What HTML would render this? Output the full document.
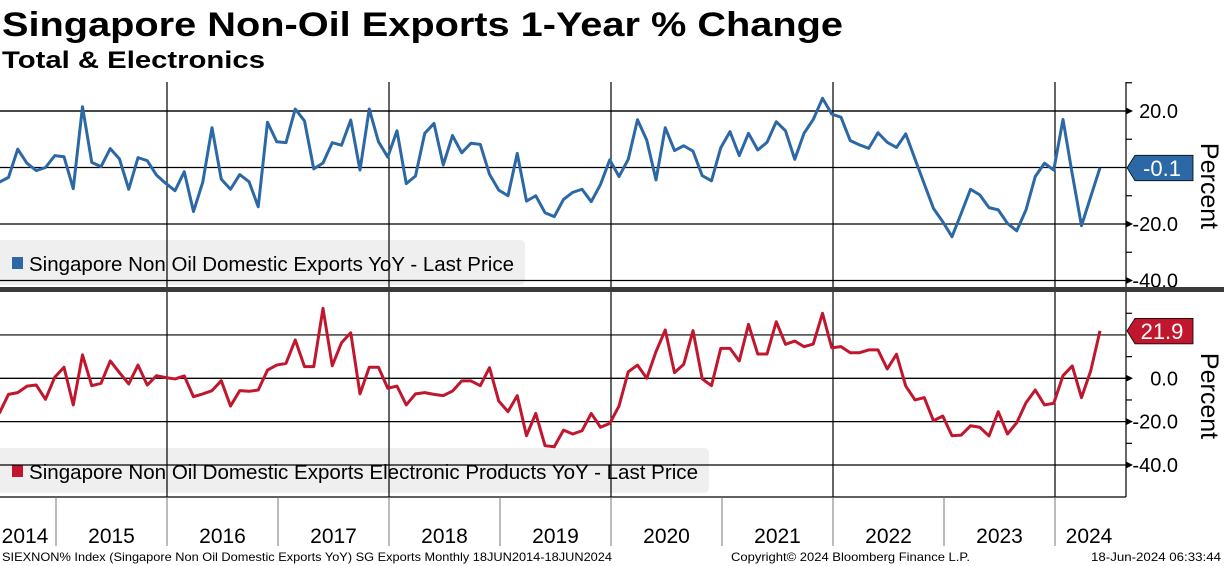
<!DOCTYPE html>
<html><head><meta charset="utf-8"><style>
body{margin:0;background:#fff;}
svg{display:block;font-family:"Liberation Sans",sans-serif;}
</style></head><body>
<svg id="chart" width="1224" height="566" viewBox="0 0 1224 566">
<text x="2" y="36" font-size="34" font-weight="bold" fill="#000" textLength="841" lengthAdjust="spacingAndGlyphs">Singapore Non-Oil Exports 1-Year % Change</text>
<text x="2" y="68" font-size="24" font-weight="bold" fill="#000" textLength="263" lengthAdjust="spacingAndGlyphs">Total &amp; Electronics</text>
<g id="layer"></g>
<text x="2" y="561" font-size="12" fill="#000" textLength="610" lengthAdjust="spacingAndGlyphs">SIEXNON% Index (Singapore Non Oil Domestic Exports YoY) SG Exports  Monthly 18JUN2014-18JUN2024</text>
<text x="731" y="561" font-size="12" fill="#000" textLength="239" lengthAdjust="spacingAndGlyphs">Copyright© 2024 Bloomberg Finance L.P.</text>
<text x="1091" y="561" font-size="12" fill="#000" textLength="130" lengthAdjust="spacingAndGlyphs">18-Jun-2024 06:33:44</text>
</svg>
<script>
const years = ["2014","2015","2016","2017","2018","2019","2020","2021","2022","2023","2024"];
const totalYoY = [-5.2,-3.5,6.5,1.5,-1.1,0,4.2,3.8,-7.5,21.5,1.8,0.3,6.7,3,-7.7,3.5,2.4,-2.7,-5.6,-8.2,-1.5,-15.6,-5.2,14.1,-4.1,-7.7,-2.5,-5,-13.9,16,9.1,8.8,20.7,16.5,-0.5,1.6,8.8,7.9,16.8,-0.9,20.7,9.1,3.7,13,-5.7,-3,12.1,15.6,0.9,11.3,5.2,8.6,8.2,-2.4,-8,-10,5,-11.9,-10,-16,-17.4,-11.3,-8.8,-7.7,-12.1,-6,2.7,-3.2,2.9,16.9,9.7,-4.4,14.1,6,7.7,5.8,-2.9,-4.7,7,12.7,4.2,12.1,6.2,8.9,16.2,13,2.9,12.1,17,24.5,18.9,17.8,9.5,8,6.8,12.3,8.9,7.1,11.9,3,-5.8,-14.5,-19.2,-24.5,-16.2,-7.7,-9.7,-14.2,-15,-19.8,-22.4,-15,-3.2,1.5,-0.9,17,-2.3,-20.6,-10.3,-0.1];
const elecYoY = [-16.2,-7.4,-6.6,-3.6,-3.1,-9.7,0.5,5.1,-12.3,10.8,-3.4,-2.3,8,2.6,-2.6,6.1,-3.1,1.2,0.3,-0.3,1.1,-8.5,-7.2,-5.7,-1.1,-12.8,-5.7,-6,-5.4,3.8,6.1,6.9,17.7,5.4,5.4,32.3,5.8,16.4,21,-7.2,5.1,5.1,-4.6,-3.6,-12.3,-7.2,-6.6,-7.4,-8,-5.9,-1.2,-1.2,-3.4,4.9,-10.5,-15.4,-8,-26.5,-16.2,-31.1,-31.6,-23.9,-25.7,-24.2,-16.2,-22.6,-20.8,-12.8,3,6.1,0,12.3,22.3,2.6,6.5,22,-0.3,-3.4,13.8,13.8,8,24.9,11.2,11.2,26.1,15.7,17.2,14.6,15.8,30,14.1,14.6,11.8,11.8,13.1,13.1,4.3,11.1,-3.6,-10,-8.9,-19.6,-17.4,-26.5,-26.2,-21.9,-22.6,-26.6,-15.4,-25.7,-20.5,-11.3,-5.4,-12.3,-11.5,1.2,5.7,-8.9,3.5,21.9];
const topTicks = [20,-20,-40];
const botTicks = [0,-20,-40];
const topMinor = [30,10,-10,-30];
const botMinor = [30,10,-10,-30];

const NS="http://www.w3.org/2000/svg";
const L=document.getElementById('layer');
function mk(tag,attrs,parent){const e=document.createElementNS(NS,tag);for(const k in attrs)e.setAttribute(k,attrs[k]);(parent||L).appendChild(e);return e;}
const AXIS_X=1126, X0=-0.75, MONTH=9.25, JAN2015=56;
const xIdx=i=>X0+i*MONTH;
const yearX=k=>JAN2015+(k-1)*MONTH*12;
const yTop=v=>167.5-v*2.825;
const yBot=v=>378.3-v*2.167;

function panel(name,yFn,top,bot,ticks,minor,data,color,legendText,legendY,legendW,textW,lastLabelY){
  const lg=mk('g',{});
  
  
  mk('rect',{x:-5,y:legendY,width:legendW+5,height:45,rx:5,fill:'#efefef'},lg);
  mk('rect',{x:12,y:legendY+17,width:11,height:12,fill:color},lg);
  const lt=mk('text',{x:29,y:legendY+31,'font-size':20,fill:'#000',textLength:textW,lengthAdjust:'spacingAndGlyphs'},lg);
  lt.textContent=legendText;
  [...ticks,0,20].forEach(v=>{
    const yy=yFn(v); if(yy<=top||yy>=bot) return;
    const g=mk('line',{x1:0,x2:AXIS_X,y1:yy,y2:yy,stroke:'#000','stroke-width':1.2});
    
    
  });
  for(let k=2;k<years.length;k+=2){
    const vl=mk('line',{x1:yearX(k),x2:yearX(k),y1:top,y2:bot,stroke:'#000','stroke-width':1.2});
    
    
  }
  const pts=data.map((v,i)=>xIdx(i).toFixed(2)+','+yFn(v).toFixed(2)).join(' ');
  const pl=mk('polyline',{points:pts,fill:'none',stroke:color,'stroke-width':3,'stroke-linejoin':'round'});
  
  
  mk('line',{x1:AXIS_X,x2:AXIS_X,y1:top,y2:bot,stroke:'#000','stroke-width':1.2});
  minor.forEach(v=>{const yy=yFn(v); if(yy>=top-1&&yy<=bot) mk('line',{x1:AXIS_X,x2:AXIS_X+6,y1:yy,y2:yy,stroke:'#000','stroke-width':1.2});});
  const last=data[data.length-1];
  ticks.forEach(v=>{
    const yy=yFn(v);
    mk('path',{d:`M${AXIS_X} ${yy-3.5} L${AXIS_X+7} ${yy} L${AXIS_X} ${yy+3.5}Z`,fill:'#000'});
    const t=mk('text',{x:AXIS_X+52,y:yy+7,'font-size':20,'text-anchor':'end',fill:'#000'});
    
    
    t.textContent=v.toFixed(1);
  });
  const ly=yFn(last);
  const lbl=mk('g',{});
  
  
  mk('path',{d:`M${AXIS_X+1} ${ly} L${AXIS_X+9} ${ly-12.5} L1193 ${ly-12.5} L1193 ${ly+13} L${AXIS_X+9} ${ly+13}Z`,fill:color,stroke:'#000','stroke-width':0.8},lbl);
  const lv=mk('text',{x:1162,y:ly+8,'font-size':22,'text-anchor':'middle',fill:'#fff'},lbl);
  lv.textContent=last.toFixed(1);
  const pc=mk('text',{x:0,y:0,'font-size':25,fill:'#000',transform:`translate(1201 ${lastLabelY}) rotate(90)`,'text-anchor':'middle'});
  
  
  pc.textContent='Percent';
}
panel('top',yTop,82,287,topTicks,topMinor,totalYoY,'#2b68a5','Singapore Non Oil Domestic Exports YoY - Last Price',240,525,485,186);
panel('bottom',yBot,292,497,botTicks,botMinor,elecYoY,'#c0172f','Singapore Non Oil Domestic Exports Electronic Products YoY - Last Price',448,709,669,396);

const dv=mk('rect',{x:0,y:287,width:1224,height:5,fill:'#3a3a3a'});


mk('line',{x1:0,x2:1126,y1:497,y2:497,stroke:'#000','stroke-width':1.2});
years.forEach((y,k)=>{
  if(k>0){const s=mk('line',{x1:yearX(k),x2:yearX(k),y1:497,y2:546,stroke:'#777','stroke-width':1});
    
    }
  const left=k===0?0:yearX(k), right=k===years.length-1?1117:yearX(k+1);
  const cx=k===0?25:(k===years.length-1?1089:(left+right)/2);
  const t=mk('text',{x:cx,y:543,'font-size':21,'text-anchor':'middle',fill:'#000'});
  
  
  t.textContent=y;
});
</script>
</body></html>
